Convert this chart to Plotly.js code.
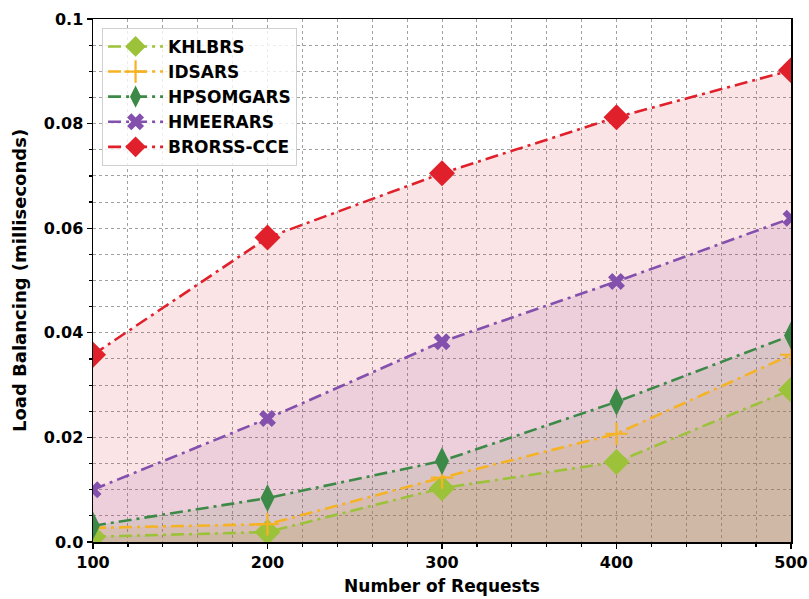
<!DOCTYPE html>
<html>
<head>
<meta charset="utf-8">
<script src="https://cdn.plot.ly/plotly-3.0.1.min.js"></script>
<style>
  html, body { margin: 0; padding: 0; background: #ffffff; }
  #chart { width: 809px; height: 599px; }
</style>
</head>
<body>
<div id="chart"></div>
<script>
// Number of requests on the x axis
const requests = [100, 200, 300, 400, 500];

// Load balancing time (milliseconds) per method
const khlbrs    = [0.0010, 0.0019, 0.0103, 0.0153, 0.0291];
const idsars    = [0.0027, 0.0034, 0.0123, 0.0207, 0.0358];
const hpsomgars = [0.0031, 0.0084, 0.0155, 0.0268, 0.0395];
const hmeerars  = [0.0100, 0.0236, 0.0383, 0.0498, 0.0619];
const brorss    = [0.0358, 0.0582, 0.0705, 0.0812, 0.0902];

const methods = ['KHLBRS', 'IDSARS', 'HPSOMGARS', 'HMEERARS', 'BRORSS-CCE'];
const values  = [khlbrs, idsars, hpsomgars, hmeerars, brorss];

const yTickVals = [0, 0.02, 0.04, 0.06, 0.08, 0.1];
const yTickText = ['0.0', '0.02', '0.04', '0.06', '0.08', '0.1'];

const FONT = 'DejaVu Sans, Verdana, sans-serif';

const styles = [
  { color: '#9cc23a', fill: 'rgba(156,194,58,0.13)', symbol: 'diamond',      size: 20 },
  { color: '#f5b324', fill: 'rgba(245,179,36,0.13)', symbol: 'cross-thin',   size: 16 },
  { color: '#3d8a48', fill: 'rgba(61,138,72,0.13)',  symbol: 'diamond-tall', size: 20 },
  { color: '#8450ad', fill: 'rgba(132,80,173,0.13)', symbol: 'x',            size: 15 },
  { color: '#e0202a', fill: 'rgba(224,32,42,0.12)',  symbol: 'diamond',      size: 20 }
];

const DASH = '13px,5px,3px,5px';

// shaded areas first, so every line sits above all fills
const fills = methods.map((name, i) => ({
  x: requests, y: values[i], type: 'scatter', mode: 'none',
  fill: 'tozeroy', fillcolor: styles[i].fill,
  showlegend: false, hoverinfo: 'skip'
}));

const lines = methods.map((name, i) => {
  const s = styles[i];
  const marker = { symbol: s.symbol, size: s.size, color: s.color, line: { width: 0 } };
  if (s.symbol === 'cross-thin') marker.line = { width: 2.2, color: s.color };
  return {
    x: requests, y: values[i], name: name, type: 'scatter', mode: 'lines+markers',
    line: { color: s.color, width: 2.6, dash: DASH },
    marker: marker
  };
});

const gridColor = '#a0a0a0';

const layout = {
  width: 809, height: 599,
  margin: { l: 93, r: 18, t: 19, b: 57 },
  paper_bgcolor: '#ffffff', plot_bgcolor: '#ffffff',
  font: { family: FONT, color: '#000000' },
  showlegend: true,
  legend: {
    x: 0.013, y: 0.983, xanchor: 'left', yanchor: 'top',
    bgcolor: 'rgba(255,255,255,0.8)', bordercolor: '#d0d0d0', borderwidth: 1,
    font: { family: FONT, size: 17, weight: 'bold', color: '#000000' },
    itemwidth: 55, tracegroupgap: 0
  },
  xaxis: {
    range: [100, 500],
    tickvals: requests, ticktext: requests.map(String),
    ticks: 'outside', ticklen: 5, tickwidth: 1.2, tickcolor: '#000',
    showline: true, linecolor: '#000', linewidth: 1.5, mirror: true,
    showgrid: true, gridcolor: gridColor, griddash: 'dot', gridwidth: 1,
    zeroline: false,
    tickfont: { family: FONT, size: 16, weight: 'bold' },
    minor: { dtick: 20, tick0: 100, ticks: 'outside', ticklen: 3, tickcolor: '#000',
             showgrid: true, gridcolor: gridColor, griddash: 'dot', gridwidth: 1 },
    title: { text: 'Number of Requests', standoff: 9,
             font: { family: FONT, size: 17, weight: 'bold' } }
  },
  yaxis: {
    range: [0, 0.1],
    tickvals: yTickVals, ticktext: yTickText,
    ticks: 'outside', ticklen: 5, tickwidth: 1.2, tickcolor: '#000',
    showline: true, linecolor: '#000', linewidth: 1.5, mirror: true,
    showgrid: true, gridcolor: gridColor, griddash: 'dot', gridwidth: 1,
    zeroline: false,
    tickfont: { family: FONT, size: 16, weight: 'bold' },
    minor: { dtick: 0.005, tick0: 0, ticks: 'outside', ticklen: 3, tickcolor: '#000',
             showgrid: true, gridcolor: gridColor, griddash: 'dot', gridwidth: 1 },
    title: { text: 'Load Balancing (milliseconds)', standoff: 12,
             font: { family: FONT, size: 18, weight: 'bold' } }
  }
};

Plotly.newPlot('chart', fills.concat(lines), layout, { displayModeBar: false, staticPlot: true });
</script>
</body>
</html>
